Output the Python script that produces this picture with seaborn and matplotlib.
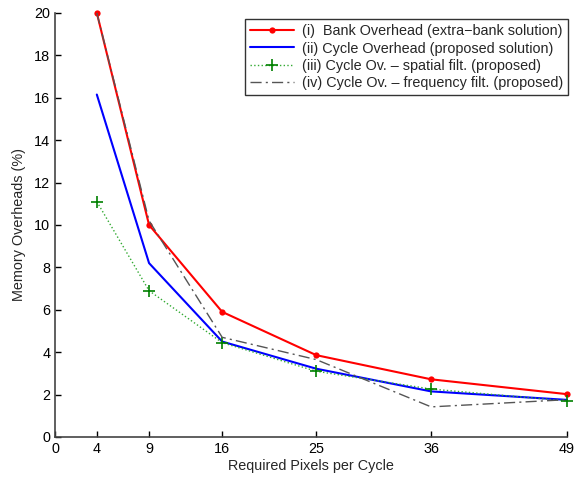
import matplotlib
matplotlib.use('Agg')
import matplotlib.pyplot as plt
import seaborn as sns
import pandas as pd

sns.set_style('ticks')
plt.rcParams['font.family'] = ['Liberation Sans', 'DejaVu Sans']

pixels = [4, 9, 16, 25, 36, 49]
bank_overhead = [20.0, 10.0, 5.9, 3.86, 2.72, 2.02]
cycle_overhead = [16.15, 8.2, 4.5, 3.22, 2.15, 1.75]
cycle_spatial = [11.1, 6.9, 4.45, 3.1, 2.26, 1.7]
cycle_freq = [20.0, 10.2, 4.7, 3.65, 1.42, 1.76]

labels = ['(i)  Bank Overhead (extra\u2212bank solution)',
          '(ii) Cycle Overhead (proposed solution)',
          '(iii) Cycle Ov. \u2013 spatial filt. (proposed)',
          '(iv) Cycle Ov. \u2013 frequency filt. (proposed)']

df = pd.DataFrame({'x': pixels, 'bank': bank_overhead, 'cyc': cycle_overhead,
                   'spat': cycle_spatial, 'freq': cycle_freq})

fs = 10.4
fig = plt.figure(figsize=(5.75, 4.78), dpi=100)
ax = fig.add_axes([0.0957, 0.0858, 0.8903, 0.8872])

sns.lineplot(data=df, x='x', y='bank', ax=ax, color='red', lw=1.5, marker='o',
             markersize=4.5, markeredgewidth=0, label=labels[0])
sns.lineplot(data=df, x='x', y='cyc', ax=ax, color='blue', lw=1.5, label=labels[1])
sns.lineplot(data=df, x='x', y='spat', ax=ax, color='#33aa33', lw=1.0, ls=':',
             marker='+', markersize=8, markeredgewidth=1.2, markeredgecolor='green',
             label=labels[2])
sns.lineplot(data=df, x='x', y='freq', ax=ax, color='#555555', lw=1.0, ls='-.',
             label=labels[3])
ax.lines[3].set_dashes([8, 3, 1.5, 3])
for ln in ax.lines:
    ln.set_clip_on(False)

ax.set_xlim(0, 49)
ax.set_ylim(0, 20)
ax.set_xticks([0] + pixels)
ax.set_yticks(range(0, 21, 2))
ax.tick_params(direction='in', length=4, labelsize=fs, colors='black', width=1)
for s in ['left', 'bottom']:
    ax.spines[s].set_color('#444444')
    ax.spines[s].set_linewidth(1.2)
sns.despine(ax=ax)
ax.set_xlabel('Required Pixels per Cycle', fontsize=fs, labelpad=2)
ax.set_ylabel('Memory Overheads (%)', fontsize=fs, labelpad=6)

leg = ax.legend(loc='upper right', bbox_to_anchor=(1.003, 0.985), fontsize=fs,
                frameon=True, fancybox=False, edgecolor='black', handlelength=3.0,
                handletextpad=0.6, borderpad=0.35, labelspacing=0.22, borderaxespad=0)
leg.get_frame().set_linewidth(1.0)

fig.savefig('out.png', dpi=100)
